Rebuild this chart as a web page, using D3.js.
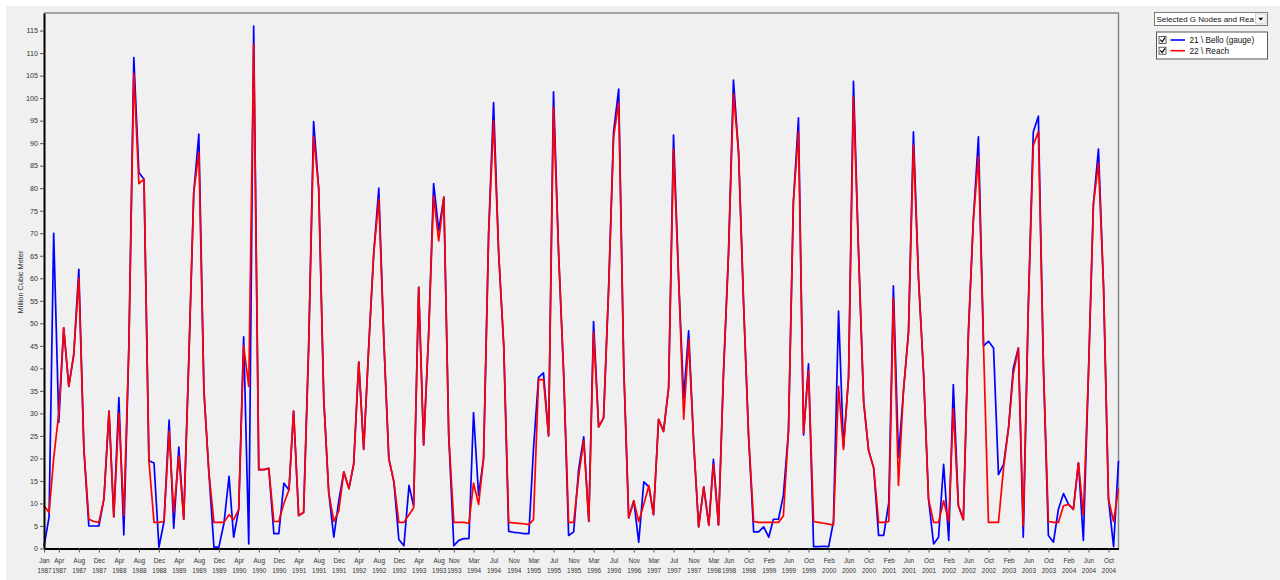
<!DOCTYPE html>
<html>
<head>
<meta charset="utf-8">
<script src="https://cdn.jsdelivr.net/npm/d3@7"></script>
<style>
  html, body { margin: 0; padding: 0; background: #ffffff; }
  svg { display: block; }
  text { font-family: "Liberation Sans", Arial, sans-serif; }
</style>
</head>
<body>
<svg id="chart" width="1280" height="580"></svg>
<script>
// ---- data ----
const startMonth = "Jan 1987";
const endMonth = "Dec 2004";
const seriesNames = ["21 \\ Bello (gauge)", "22 \\ Reach"];
const seriesColors = ["#0000ff", "#ff0000"];

const bello = [
  0.5, 7, 70, 28, 49, 36, 43, 62, 22, 5, 5, 5,
  11, 30.5, 7, 33.5, 3, 45, 109, 83.5, 82, 19.5, 19, 0.3,
  6, 28.5, 4.5, 22.5, 6.5, 42, 79, 92, 35, 17, 0.3, 0.3,
  5.6, 16, 2.5, 8.7, 47, 1, 116, 17.5, 17.5, 17.8, 3.3, 3.3,
  14.5, 13, 30.5, 7.3, 8, 45, 94.8, 80, 33, 12.5, 2.5, 10.5,
  17, 13.3, 18.7, 41.4, 22, 45, 65.5, 80, 46, 20, 14.8, 2,
  0.6, 14, 9.5, 58, 23, 48, 81, 70.6, 78, 25, 0.6, 1.8,
  2.2, 2.2, 30.2, 11.8, 20, 70, 99, 65.6, 45, 3.8, 3.6, 3.5,
  3.3, 3.3, 22, 38, 39, 25, 101.4, 65.6, 38.7, 2.9, 3.7, 17.5,
  24.8, 6, 50.4, 27, 29, 58, 92.5, 102, 40, 6.8, 10.6, 1.4,
  14.8, 13.7, 7.5, 28.7, 26, 35.6, 91.8, 60, 33.3, 48.3, 23.3, 4.8,
  13.7, 5.2, 19.8, 5.2, 38.7, 65.6, 104, 88, 54, 25, 3.7, 3.7,
  4.8, 2.5, 6.5, 6.5, 11.8, 26, 77, 95.6, 25.2, 41, 0.4, 0.4,
  0.5, 0.4, 6, 52.7, 22.5, 38, 103.7, 65.6, 32.5, 21.8, 17.9, 2.9,
  2.9, 10.2, 58.3, 20.2, 34.8, 48, 92.5, 60, 38.7, 11, 1, 2.5,
  18.7, 1.8, 36.4, 9.5, 6.4, 48, 73, 91.4, 45, 46, 44.5, 16.4,
  18.7, 27, 40, 44.5, 2.5, 54, 92.5, 96, 40, 2.9, 1.4, 8.7,
  12.2, 9.8, 8.7, 19, 1.8, 38.7, 76.4, 88.7, 58, 11, 0.4, 19.5
];

const reach = [
  9.5, 8, 20, 30, 49, 36, 43, 60, 22, 6.5, 6, 5.8,
  11, 30.5, 7, 30, 7.3, 45, 105.5, 81, 82, 19.5, 5.8, 5.8,
  6, 26, 8, 20.5, 6.5, 42, 79, 88, 35, 17, 5.8, 5.8,
  5.8, 7.5, 6.4, 8.7, 45, 36, 112, 17.5, 17.5, 17.8, 6, 6,
  10, 13, 30.5, 7.3, 8, 45, 91.5, 80, 33, 12.5, 6, 8.3,
  17, 13.3, 18.7, 41.4, 22, 45, 65.5, 77.5, 46, 20, 14.8, 5.8,
  5.8, 7.5, 9, 58, 23, 48, 78.3, 68.3, 78, 25, 5.8, 5.8,
  5.8, 5.6, 14.5, 9.8, 20, 70, 95, 65.6, 45, 5.8, 5.7, 5.6,
  5.5, 5.3, 6.4, 37.5, 37.5, 25, 98, 65.6, 38.7, 5.8, 5.8, 16,
  24, 6, 48, 27, 29, 58, 91.4, 99, 40, 6.8, 10.6, 6,
  9.8, 14, 7.5, 28.7, 26, 35.6, 88.7, 60, 28.7, 46.4, 23.3, 4.8,
  13.7, 5.2, 18.7, 5.2, 38.7, 65.6, 101, 88, 54, 25, 6, 5.8,
  5.8, 5.8, 5.8, 5.8, 7.2, 26, 77, 92.5, 25.6, 39.5, 6, 5.8,
  5.6, 5.4, 5.2, 36, 22, 38, 100.2, 65.6, 32.5, 21.8, 17.9, 5.8,
  5.8, 6, 55.6, 14, 34.8, 48, 89.5, 60, 38.7, 11, 5.8, 5.8,
  10.6, 6, 31, 9.5, 6.4, 48, 73, 87, 45, 5.8, 5.8, 5.8,
  17.9, 27, 38.7, 44.5, 5, 54, 89.5, 92.6, 40, 6, 5.8, 5.8,
  9.5, 9.8, 8.7, 19, 7.5, 38.7, 76.4, 85.6, 58, 11, 6, 13.3
];

const xTickLabels = [
  "Jan 1987","Apr 1987","Aug 1987","Dec 1987","Apr 1988","Aug 1988","Dec 1988",
  "Apr 1989","Aug 1989","Dec 1989","Apr 1990","Aug 1990","Dec 1990","Apr 1991",
  "Aug 1991","Dec 1991","Apr 1992","Aug 1992","Dec 1992","Apr 1993","Aug 1993",
  "Nov 1993","Mar 1994","Jul 1994","Nov 1994","Mar 1995","Jul 1995","Nov 1995",
  "Mar 1996","Jul 1996","Nov 1996","Mar 1997","Jul 1997","Nov 1997","Mar 1998",
  "Jun 1998","Oct 1998","Feb 1999","Jun 1999","Oct 1999","Feb 2000","Jun 2000",
  "Oct 2000","Feb 2001","Jun 2001","Oct 2001","Feb 2002","Jun 2002","Oct 2002",
  "Feb 2003","Jun 2003","Oct 2003","Feb 2004","Jun 2004","Oct 2004"
];
const yTicks = [0,5,10,15,20,25,30,35,40,45,50,55,60,65,70,75,80,85,90,95,100,105,110,115];
const yMax = 118.9;
const yTitle = "Million Cubic Meter";
const dropdownText = "Selected G Nodes and Reaches";

// ---- chart ----
const parse = d3.timeParse("%b %Y");
const months = d3.timeMonth.range(parse(startMonth), d3.timeMonth.offset(parse(endMonth), 1));
const svg = d3.select("#chart");
const P = { left: 44, right: 1118.5, top: 13, bottom: 548.5 };

svg.append("rect").attr("x", 6).attr("y", 6).attr("width", 1274).attr("height", 574).attr("fill", "#f0f0f0");

const x = d3.scaleTime().domain([months[0], months[months.length - 1]]).range([P.left, P.right]);
const y = d3.scaleLinear().domain([0, yMax]).range([P.bottom, P.top]);

// frame top/right
svg.append("path")
  .attr("d", `M${P.left},${P.top}H${P.right}V${P.bottom}`)
  .attr("fill", "none").attr("stroke", "#8a8a8a").attr("stroke-width", 1.5);

// lines
const line = d3.line().x((d, i) => x(months[i])).y(d => y(d));
[bello, reach].forEach((s, k) => {
  svg.append("path").datum(s)
    .attr("d", line)
    .attr("fill", "none")
    .attr("stroke", seriesColors[k])
    .attr("stroke-width", 1.7)
    .attr("stroke-linejoin", "round");
});

// y axis
const yAxis = svg.append("g").attr("transform", `translate(${P.left},0)`)
  .call(d3.axisLeft(y).tickValues(yTicks).tickSize(4).tickSizeOuter(0).tickPadding(2));
yAxis.select(".domain").attr("stroke", "#000").attr("stroke-width", 2);
yAxis.selectAll(".tick line").attr("stroke", "#555");
yAxis.selectAll(".tick text").attr("font-size", 7.2).attr("fill", "#333")
  .attr("font-family", "'Liberation Sans', Arial, sans-serif");

// x axis
const xAxis = svg.append("g").attr("transform", `translate(0,${P.bottom})`)
  .call(d3.axisBottom(x).tickValues(xTickLabels.map(parse)).tickSize(4).tickSizeOuter(0).tickFormat(() => ""));
xAxis.select(".domain").attr("stroke", "#000").attr("stroke-width", 2);
xAxis.selectAll(".tick line").attr("stroke", "#555");
xAxis.selectAll(".tick text").each(function(d, i) {
  const parts = xTickLabels[i].split(" ");
  const t = d3.select(this).attr("font-size", 6.4).attr("fill", "#333")
    .attr("font-family", "'Liberation Sans', Arial, sans-serif").attr("y", 0).attr("dy", null);
  t.append("tspan").attr("x", 0).attr("y", 14.5).text(parts[0]);
  t.append("tspan").attr("x", 0).attr("y", 24.5).text(parts[1]);
});

// y title
svg.append("text")
  .attr("transform", "translate(22.5,282) rotate(-90)")
  .attr("text-anchor", "middle")
  .attr("font-size", 7.4).attr("fill", "#333")
  .text(yTitle);

// dropdown
const dd = svg.append("g");
dd.append("clipPath").attr("id", "ddclip").append("rect")
  .attr("x", 1155).attr("y", 12).attr("width", 99).attr("height", 14);
dd.append("rect").attr("x", 1154.5).attr("y", 12.5).attr("width", 113).attr("height", 13)
  .attr("fill", "#fff").attr("stroke", "#7a7a7a").attr("stroke-width", 1);
dd.append("text").attr("x", 1156.5).attr("y", 22).attr("font-size", 8).attr("fill", "#111")
  .attr("clip-path", "url(#ddclip)").text(dropdownText);
dd.append("rect").attr("x", 1255.5).attr("y", 14).attr("width", 10.5).attr("height", 10)
  .attr("fill", "#f5f5f5").attr("stroke", "#bbb").attr("stroke-width", 0.6);
dd.append("path").attr("d", "M1258.3,17.8 L1263.3,17.8 L1260.8,20.6 Z").attr("fill", "#000");

// legend
const lg = svg.append("g");
lg.append("rect").attr("x", 1156.5).attr("y", 32).attr("width", 111).attr("height", 27)
  .attr("fill", "#fff").attr("stroke", "#555").attr("stroke-width", 1);
seriesNames.forEach((name, k) => {
  const cy = 40 + k * 10.7;
  lg.append("rect").attr("x", 1159).attr("y", cy - 3.5).attr("width", 7).attr("height", 7)
    .attr("fill", "#fff").attr("stroke", "#333").attr("stroke-width", 0.8);
  lg.append("path").attr("d", `M${1160.3},${cy - 0.3} L${1162.2},${cy + 1.8} L${1165},${cy - 2.4}`)
    .attr("fill", "none").attr("stroke", "#000").attr("stroke-width", 1.2);
  lg.append("line").attr("x1", 1170.5).attr("x2", 1185).attr("y1", cy).attr("y2", cy)
    .attr("stroke", seriesColors[k]).attr("stroke-width", 1.6);
  lg.append("text").attr("x", 1189.5).attr("y", cy + 3).attr("font-size", 8.2).attr("fill", "#111").text(name);
});
</script>
</body>
</html>
